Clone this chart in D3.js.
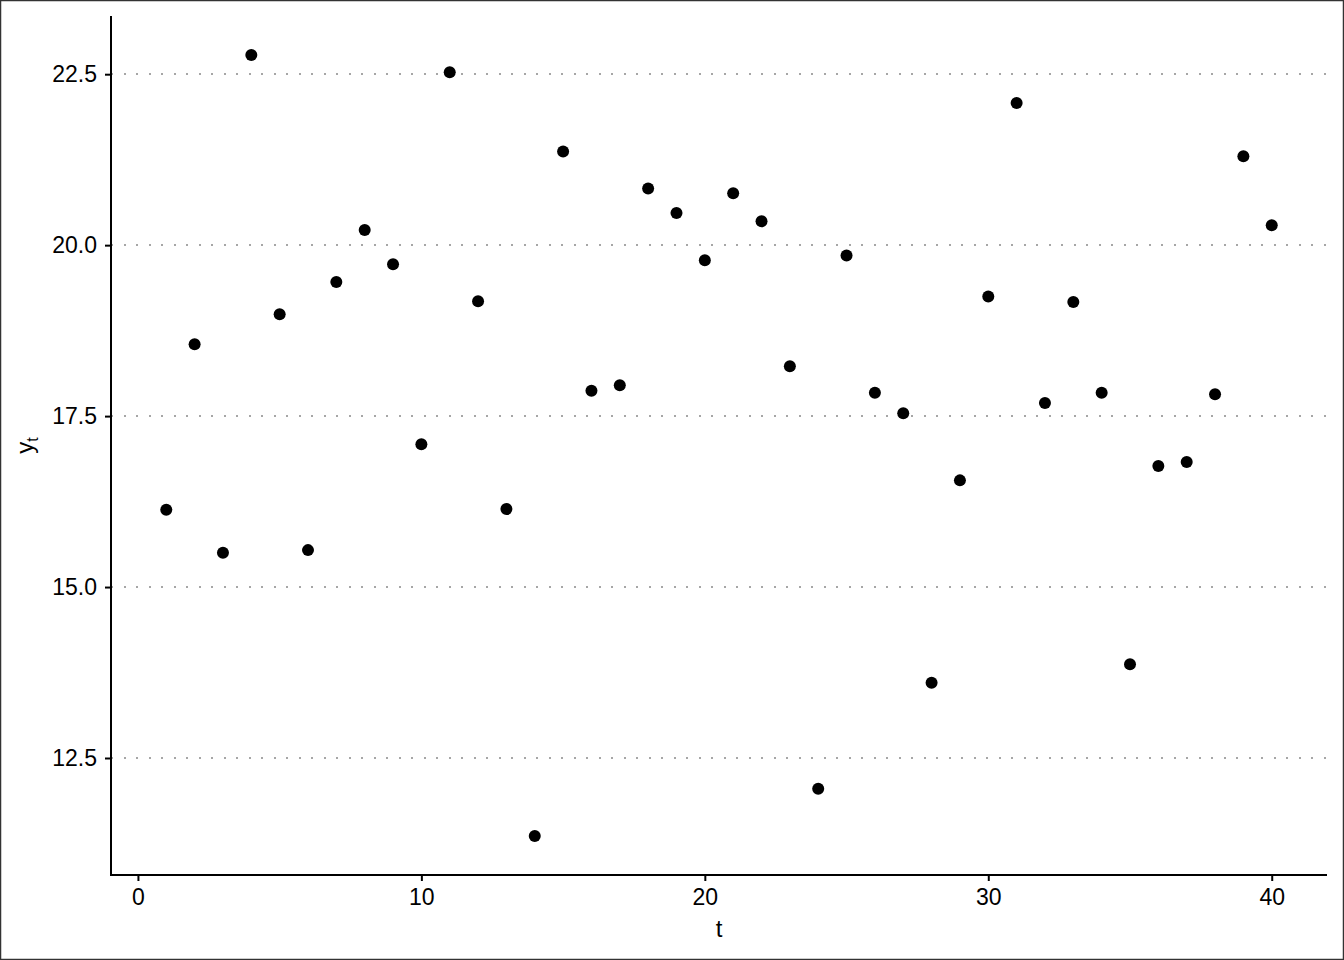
<!DOCTYPE html>
<html>
<head>
<meta charset="utf-8">
<script src="https://cdn.jsdelivr.net/npm/d3@7"></script>
<style>
  body { margin: 0; background: #fff; }
  svg { display: block; font-family: "Liberation Sans", Arial, sans-serif; }
  .grid line { stroke: #a6a6a6; stroke-width: 2.4; stroke-dasharray: 2.4 10.1; shape-rendering: crispEdges; }
</style>
</head>
<body>
<div id="chart"></div>
<script>
// series: time index and observed value
var tValues = d3.range(1, 41);
var yValues = [16.13, 18.55, 15.50, 22.78, 18.99, 15.54, 19.46, 20.22, 19.72, 17.09,
               22.53, 19.18, 16.14, 11.36, 21.37, 17.87, 17.95, 20.83, 20.47, 19.78,
               20.76, 20.35, 18.23, 12.05, 19.85, 17.84, 17.54, 13.60, 16.56, 19.25,
               22.08, 17.69, 19.17, 17.84, 13.87, 16.77, 16.83, 17.82, 21.30, 20.29];
var xTicks = [0, 10, 20, 30, 40];
var yTicks = [12.5, 15.0, 17.5, 20.0, 22.5];

var W = 1344, H = 960;
var margin = { top: 16, right: 17, bottom: 85, left: 111 },
    width = W - margin.left - margin.right,
    height = H - margin.top - margin.bottom;

var svg = d3.select("#chart").append("svg")
    .attr("width", W)
    .attr("height", H);

// outer frame
svg.append("rect")
    .attr("x", 0.5).attr("y", 0.5)
    .attr("width", W - 1).attr("height", H - 1)
    .attr("fill", "none").attr("stroke", "#333").attr("stroke-width", 1.5);

var g = svg.append("g")
    .attr("transform", "translate(" + margin.left + "," + margin.top + ")");

// ggplot-style 5% expansion
var xr = d3.extent(tValues), xpad = (xr[1] - xr[0]) * 0.05;
var yr = d3.extent(yValues), ypad = (yr[1] - yr[0]) * 0.05;

var x = d3.scaleLinear().domain([xr[0] - xpad, xr[1] + xpad]).range([0, width]);
var y = d3.scaleLinear().domain([yr[0] - ypad, yr[1] + ypad]).range([height, 0]);

// horizontal dotted grid
g.append("g").attr("class", "grid")
    .selectAll("line")
    .data(yTicks)
    .join("line")
    .attr("x1", 0).attr("x2", width)
    .attr("y1", d => Math.round(y(d))).attr("y2", d => Math.round(y(d)));

// axes
var xAxis = g.append("g")
    .attr("transform", "translate(0," + height + ")")
    .call(d3.axisBottom(x).tickValues(xTicks).tickSize(6).tickPadding(8).tickFormat(d3.format("d")));

var yAxis = g.append("g")
    .call(d3.axisLeft(y).tickValues(yTicks).tickSize(6).tickPadding(8).tickFormat(d3.format(".1f")));

[xAxis, yAxis].forEach(function(a) {
    a.select(".domain").remove();
    a.selectAll(".tick line").attr("stroke", "#000").attr("stroke-width", 2);
    a.selectAll(".tick text")
        .attr("fill", "#000")
        .attr("font-size", 23)
        .attr("font-family", "'Liberation Sans', Arial, sans-serif");
});

// axis lines (only left and bottom)
g.append("line")
    .attr("x1", -1).attr("x2", width)
    .attr("y1", height).attr("y2", height)
    .attr("stroke", "#000").attr("stroke-width", 2);
g.append("line")
    .attr("x1", 0).attr("x2", 0)
    .attr("y1", 0).attr("y2", height + 1)
    .attr("stroke", "#000").attr("stroke-width", 2);

// points
g.append("g")
    .selectAll("circle")
    .data(tValues)
    .join("circle")
    .attr("cx", d => x(d))
    .attr("cy", (d, i) => y(yValues[i]))
    .attr("r", 6)
    .attr("fill", "#000");

// axis titles
svg.append("text")
    .attr("x", margin.left + width / 2)
    .attr("y", 937)
    .attr("text-anchor", "middle")
    .style("font-size", "24px")
    .text("t");

var yt = svg.append("text")
    .attr("transform", "translate(33," + (margin.top + height / 2) + ") rotate(-90)")
    .attr("text-anchor", "middle")
    .style("font-size", "24px");
yt.append("tspan").text("y");
yt.append("tspan").attr("dy", 5).style("font-size", "16px").text("t");
</script>
</body>
</html>
